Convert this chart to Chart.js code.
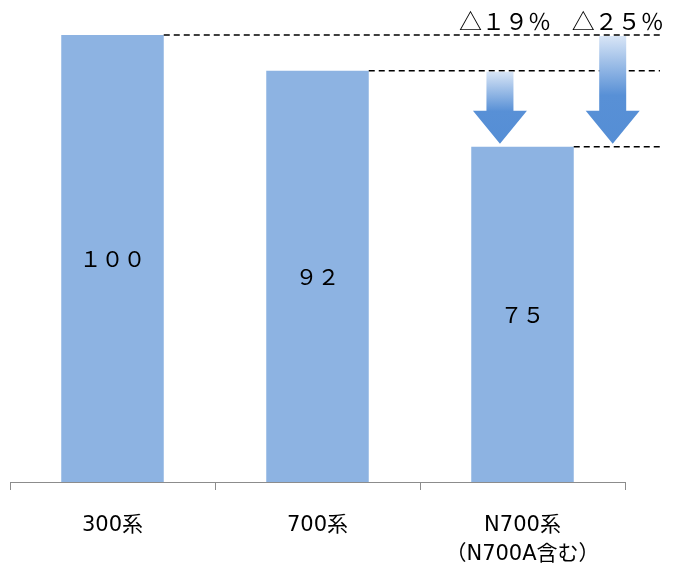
<!DOCTYPE html>
<html>
<head>
<meta charset="utf-8">
<script src="https://cdn.jsdelivr.net/npm/chart.js@4.4.0/dist/chart.umd.min.js"></script>
<style>
  html, body { margin: 0; padding: 0; background: #fff; }
  #wrap { width: 674px; height: 567px; }
</style>
</head>
<body>
<div id="wrap"><canvas id="myChart" width="674" height="567"></canvas></div>
<script>
var categories = ['300系', '700系', ['N700系', '（N700A含む）']];
var values = [100, 92, 75];
var valueLabels = ['１００', '９２', '７５'];
// reduction arrows: from bar index -> to bar index, text, x position on category scale
var reductions = [
    { from: 1, to: 2, text: '△１９％', at: 1.89 },
    { from: 0, to: 2, text: '△２５％', at: 2.44 }
];

var fontName = '"DejaVu Sans", "Noto Sans CJK JP", sans-serif';
var cjkFont = '"Noto Sans CJK JP", sans-serif';

function drawArrow(ctx, cx, top, tip) {
    var shaftHalf = 13.5, headHalf = 27, headH = 33;
    var headTop = tip - headH;
    var g = ctx.createLinearGradient(0, top, 0, tip);
    g.addColorStop(0, '#d8e5f6');
    g.addColorStop(0.55, '#5890d6');
    g.addColorStop(1, '#558ed5');
    ctx.fillStyle = g;
    ctx.beginPath();
    ctx.moveTo(cx - shaftHalf, top);
    ctx.lineTo(cx + shaftHalf, top);
    ctx.lineTo(cx + shaftHalf, headTop);
    ctx.lineTo(cx + headHalf, headTop);
    ctx.lineTo(cx, tip);
    ctx.lineTo(cx - headHalf, headTop);
    ctx.lineTo(cx - shaftHalf, headTop);
    ctx.closePath();
    ctx.fill();
}

var extras = {
    id: 'extras',
    afterDatasetsDraw: function (chart) {
        var ctx = chart.ctx;
        var meta = chart.getDatasetMeta(0);
        var x = chart.scales.x, y = chart.scales.y;
        var lineEnd = chart.chartArea.right + 35;
        ctx.save();

        // value labels in the middle of bars
        ctx.fillStyle = '#000';
        ctx.font = '22px ' + cjkFont;
        ctx.textAlign = 'center';
        ctx.textBaseline = 'middle';
        meta.data.forEach(function (bar, i) {
            ctx.fillText(valueLabels[i], bar.x, (bar.y + bar.base) / 2);
        });

        // dashed level lines
        ctx.strokeStyle = '#000';
        ctx.lineWidth = 1.6;
        ctx.setLineDash([6, 4]);
        meta.data.forEach(function (bar, i) {
            var yy = y.getPixelForValue(values[i]);
            ctx.beginPath();
            ctx.moveTo(bar.x + bar.width / 2, yy);
            ctx.lineTo(lineEnd, yy);
            ctx.stroke();
        });
        ctx.setLineDash([]);

        // arrows and reduction texts
        reductions.forEach(function (r) {
            var cx = x.getPixelForValue(r.at);
            var top = y.getPixelForValue(values[r.from]) + 1;
            var tip = y.getPixelForValue(values[r.to]) - 3;
            drawArrow(ctx, cx, top, tip);
            ctx.fillStyle = '#000';
            ctx.font = '23px ' + cjkFont;
            ctx.textAlign = 'center';
            ctx.textBaseline = 'middle';
            ctx.fillText(r.text, cx + 5, 21);
        });
        ctx.restore();
    }
};

var ctx = document.getElementById('myChart').getContext('2d');
var chart = new Chart(ctx, {
    type: 'bar',
    data: {
        labels: categories,
        datasets: [{
            data: values,
            backgroundColor: '#8db3e2',
            borderWidth: 0,
            categoryPercentage: 1,
            barPercentage: 0.5
        }]
    },
    options: {
        responsive: false,
        animation: false,
        layout: { padding: { left: 10, right: 49, top: 35, bottom: 0 } },
        plugins: {
            legend: { display: false },
            tooltip: { enabled: false }
        },
        scales: {
            y: {
                display: false,
                min: 0,
                max: 100
            },
            x: {
                offset: true,
                afterFit: function (s) { s.height = 85; },
                grid: {
                    offset: true,
                    drawOnChartArea: false,
                    drawTicks: true,
                    tickLength: 8,
                    color: '#8c8c8c'
                },
                border: { color: '#8c8c8c', width: 1 },
                ticks: {
                    color: '#000',
                    font: { family: fontName, size: 21, lineHeight: 1.38 },
                    padding: 21,
                    maxRotation: 0
                }
            }
        }
    },
    plugins: [extras]
});
</script>
</body>
</html>
